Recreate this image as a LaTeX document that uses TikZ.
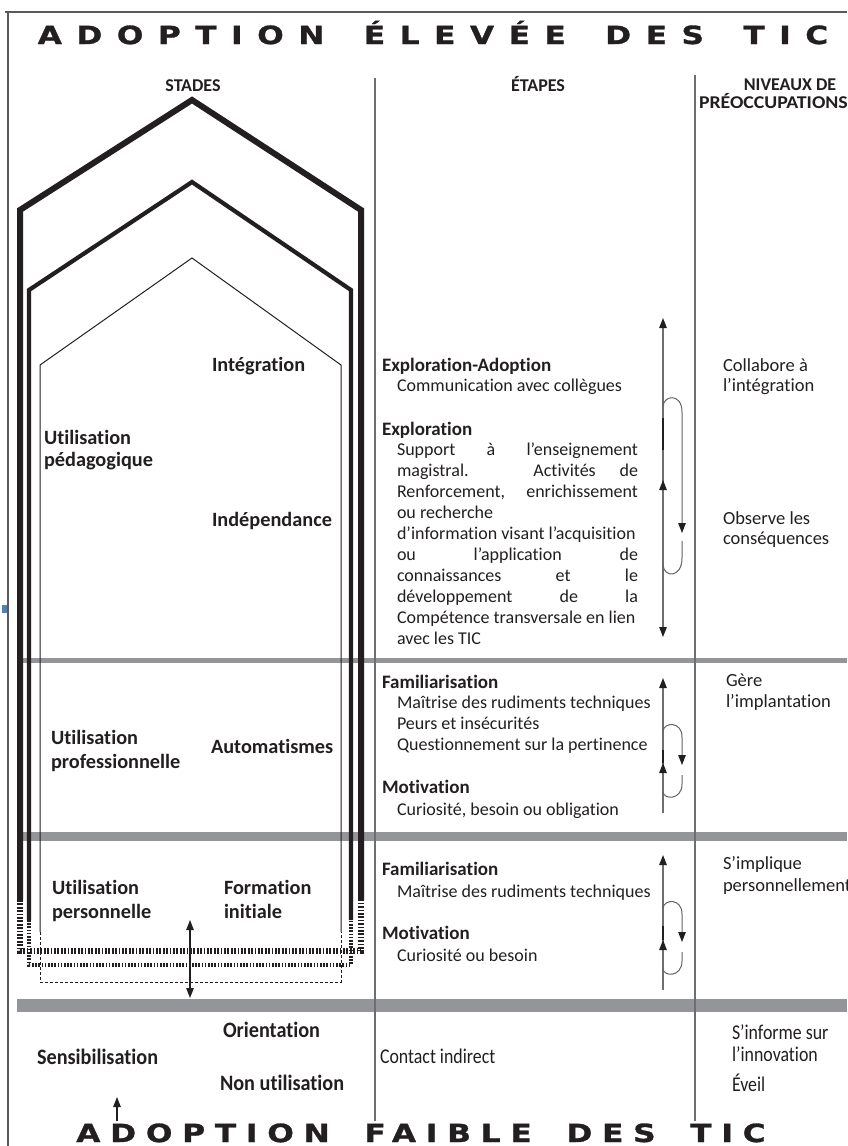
\documentclass[tikz,border=0pt]{standalone}
\usepackage{fontspec}
\setmainfont{Carlito}[Ligatures={TeX,NoCommon}]
\newfontfamily\condfont{Carlito}[FakeStretch=0.85,Ligatures={TeX,NoCommon}]
\newfontfamily\condbfont{Carlito}[FakeStretch=0.92,Ligatures={TeX,NoCommon}]
\newfontfamily\ttlfont{DejaVu Sans}[FakeStretch=1.25,FakeBold=1.2,LetterSpace=58]
\newfontfamily\ttlfontb{DejaVu Sans}[FakeStretch=1.25,FakeBold=1.2,LetterSpace=39]
\usetikzlibrary{arrows.meta}
\definecolor{ink}{HTML}{231F20}
\definecolor{bandgray}{HTML}{939598}
\definecolor{rulegray}{HTML}{6D6E71}
\definecolor{framegray}{HTML}{5A5A5A}
\definecolor{markblue}{HTML}{4F81BD}
\tikzset{
 lbl/.style={inner sep=0pt, outer sep=0pt, text=ink, anchor=base west},
 ttl/.style={lbl, anchor=base, font=\ttlfont\bfseries\fontsize{25}{25}\selectfont},
 ttlb/.style={lbl, anchor=base, font=\ttlfontb\bfseries\fontsize{25}{25}\selectfont},
 hdr/.style={lbl, anchor=base, font=\bfseries\fontsize{18}{18}\selectfont},
 stade/.style={lbl, font=\bfseries\fontsize{20.3}{22}\selectfont},
 stadec/.style={lbl, font=\condbfont\bfseries\fontsize{22}{24}\selectfont},
 etapehd/.style={lbl, font=\bfseries\fontsize{19}{21}\selectfont},
 etape/.style={lbl, font=\fontsize{18}{21}\selectfont},
 etapec/.style={lbl, font=\condfont\fontsize{21}{23}\selectfont},
 niveau/.style={lbl, font=\fontsize{18.5}{21}\selectfont},
 niveauc/.style={lbl, font=\condfont\fontsize{21}{23}\selectfont},
 outerln/.style={draw=ink, line width=6pt, line join=miter},
 midln/.style={draw=ink, line width=4.2pt, line join=miter},
 innerln/.style={draw=ink, line width=1pt, line join=miter},
 outerdash/.style={outerln, dash pattern=on 1.7pt off 1.7pt},
 middash/.style={midln, dash pattern=on 1.6pt off 1.6pt},
 innerdash/.style={innerln, dash pattern=on 3pt off 2pt},
 band/.style={draw=bandgray},
 colrule/.style={draw=rulegray, line width=1.4pt},
 vline/.style={draw=rulegray, line width=1.3pt},
 loopln/.style={draw=rulegray!90!black, line width=1pt},
 tip/.style={-{Triangle[length=10pt,width=7.5pt,color=ink]}},
 tipboth/.style={{Triangle[length=10pt,width=7.5pt,color=ink]}-{Triangle[length=10pt,width=7.5pt,color=ink]}},
}
\begin{document}
\begin{tikzpicture}[x=1pt,y=-1pt]
\useasboundingbox (0,0) rectangle (847,1146);
\fill[white] (0,0) rectangle (847,1146);

% frame
\coordinate (frTL) at (8,12);
\coordinate (frTR) at (847,12);
\coordinate (frBL) at (8,1146);
\draw[draw=framegray, line width=1.5pt] (5,12) -- (frTR);
\draw[draw=framegray, line width=1.5pt] (frTL) -- (frBL);
\fill[markblue] (2,605) rectangle (7,613);

% gray bands
\draw[band, line width=5pt] (20,660) -- (847,660);
\draw[band, line width=9pt] (20,836) -- (847,836);
\draw[band, line width=13pt] (17,1005) -- (847,1005);

% column rules
\coordinate (c1t) at (375,78); \coordinate (c1b) at (375,1121);
\coordinate (c2t) at (695,75); \coordinate (c2b) at (695,1121);
\draw[colrule] (c1t) -- (c1b);
\draw[colrule] (c2t) -- (c2b);

% titles
\node[ttl] (top) at (433,44) {ADOPTION\hspace{14pt} ÉLEVÉE\hspace{14pt} DES\hspace{14pt} TIC};
\node[ttlb] (bot) at (421,1142) {ADOPTION\hspace{14pt} FAIBLE\hspace{14pt} DES\hspace{14pt} TIC};

% headers
\node[hdr] (hstades) at (193,91) {STADES};
\node[hdr] (hetapes) at (538,91) {ÉTAPES};
\node[hdr] (hniv1) at (790,90) {NIVEAUX DE};
\node[hdr, anchor=base west] (hniv2) at (699,108) {\scalebox{1.1}[1]{PRÉOCCUPATIONS}};

% pentagons
\draw[outerln] (20,900) -- (20,210) -- (192,100) -- (361,210) -- (361,900);
\draw[outerdash] (20,900) -- (20,951) -- (361,951) -- (361,900);
\draw[midln] (29,920) -- (29,290) -- (192,182) -- (351,290) -- (351,920);
\draw[middash] (29,920) -- (29,965) -- (351,965) -- (351,920);
\draw[innerln] (40,932) -- (40,365) -- (192,258) -- (341,365) -- (341,932);
\draw[innerdash] (40,932) -- (40,982) -- (341,982) -- (341,932);

% left column labels
\node[stade] (integ) at (212,371) {Intégration};
\node[stade] (up1) at (44,444) {Utilisation};
\node[stade] (up2) at (44,466) {pédagogique};
\node[stade] (indep) at (212,526) {Indépendance};
\node[stade] (upr1) at (51,744) {Utilisation};
\node[stade] (upr2) at (51,768) {professionnelle};
\node[stade] (auto) at (211,753) {Automatismes};
\node[stade] (ups1) at (52,894) {Utilisation};
\node[stade] (ups2) at (52,918) {personnelle};
\node[stade] (form1) at (224,894) {Formation};
\node[stade] (form2) at (224,918) {initiale};
\node[stadec] (orient) at (223,1037) {Orientation};
\node[stadec] (sensib) at (37,1064) {Sensibilisation};
\node[stadec] (nonut) at (220,1090) {Non utilisation};

% left arrows
\coordinate (da1) at (190,920); \coordinate (da2) at (190,998);
\draw[draw=ink, line width=1.3pt, tipboth] (da1) -- (da2);
\coordinate (sa1) at (117,1121); \coordinate (sa2) at (117,1097);
\draw[draw=ink, line width=1.3pt, tip] (sa1) -- (sa2);

% middle column: section 1
\node[etapehd] (expad) at (382,371) {Exploration-Adoption};
\node[etape] (comm) at (397,391) {Communication avec collègues};
\node[etapehd] (expl) at (382,435) {Exploration};
\node[etape] (p1) at (397,455.0) {\makebox[241pt][s]{Support à l'enseignement}};
\node[etape] (p2) at (397,476.1) {\makebox[241pt][s]{magistral. Activités de}};
\node[etape] (p3) at (397,497.2) {\makebox[241pt][s]{Renforcement, enrichissement}};
\node[etape] (p4) at (397,518.3) {ou recherche};
\node[etape] (p5) at (397,539.4) {d'information visant l'acquisition};
\node[etape] (p6) at (397,560.5) {\makebox[241pt][s]{ou l'application de}};
\node[etape] (p7) at (397,581.6) {\makebox[241pt][s]{connaissances et le}};
\node[etape] (p8) at (397,602.7) {\makebox[241pt][s]{développement de la}};
\node[etape] (p9) at (397,623.8) {Compétence transversale en lien};
\node[etape] (p10) at (397,644.9) {avec les TIC};

\coordinate (s1t) at (663,318); \coordinate (s1b) at (663,637);
\draw[vline, tipboth] (s1t) -- (s1b);
\draw[draw=ink, line width=2.2pt] (663,418) -- (663,450);
\coordinate (s1m0) at (663,494); \coordinate (s1m) at (663,480);
\draw[vline, tip] (s1m0) -- (s1m);
\coordinate (l1a) at (663,406); \coordinate (l1b) at (682,533);
\draw[loopln, tip] (l1a) .. controls (664,395) and (682,393) .. (682,412) -- (l1b);
\coordinate (l1c) at (682,541); \coordinate (l1d) at (663,565);
\draw[loopln] (l1c) -- (682,558) .. controls (682,578) and (664,578) .. (l1d);

% section 2
\node[etapehd] (fam1) at (382,688) {Familiarisation};
\node[etape] (fam1a) at (397,708) {Maîtrise des rudiments techniques};
\node[etape] (fam1b) at (397,729) {Peurs et insécurités};
\node[etape] (fam1c) at (397,750) {Questionnement sur la pertinence};
\node[etapehd] (mot1) at (382,793) {Motivation};
\node[etape] (mot1a) at (397,815) {Curiosité, besoin ou obligation};

\coordinate (s2t) at (663,678); \coordinate (s2b) at (663,813);
\draw[vline, tip] (s2b) -- (s2t);
\draw[draw=ink, line width=2.2pt] (663,750) -- (663,763);
\coordinate (s2m0) at (663,775); \coordinate (s2m) at (663,763);
\draw[vline, tip] (s2m0) -- (s2m);
\coordinate (l2a) at (663,731); \coordinate (l2b) at (682,765);
\draw[loopln, tip] (l2a) .. controls (664,722) and (682,721) .. (682,737) -- (l2b);
\coordinate (l2c) at (682,775); \coordinate (l2d) at (663,792);
\draw[loopln] (l2c) -- (682,784) .. controls (682,800) and (664,800) .. (l2d);

% section 3
\node[etapehd] (fam2) at (382,875) {Familiarisation};
\node[etape] (fam2a) at (397,897) {Maîtrise des rudiments techniques};
\node[etapehd] (mot2) at (382,939) {Motivation};
\node[etape] (mot2a) at (397,961) {Curiosité ou besoin};

\coordinate (s3t) at (663,855); \coordinate (s3b) at (663,990);
\draw[vline, tip] (s3b) -- (s3t);
\draw[draw=ink, line width=2.2pt] (663,926) -- (663,940);
\coordinate (s3m0) at (663,952); \coordinate (s3m) at (663,940);
\draw[vline, tip] (s3m0) -- (s3m);
\coordinate (l3a) at (663,908); \coordinate (l3b) at (682,942);
\draw[loopln, tip] (l3a) .. controls (664,899) and (682,898) .. (682,914) -- (l3b);
\coordinate (l3c) at (682,952); \coordinate (l3d) at (663,969);
\draw[loopln] (l3c) -- (682,961) .. controls (682,977) and (664,977) .. (l3d);

% bottom middle
\node[etapec] (contact) at (380,1063) {Contact indirect};

% right column
\node[niveau] (n1a) at (723,371) {Collabore à};
\node[niveau] (n1b) at (723,391) {l'intégration};
\node[niveau] (n2a) at (723,524) {Observe les};
\node[niveau] (n2b) at (723,544) {conséquences};
\node[niveau] (n3a) at (726,686) {Gère};
\node[niveau] (n3b) at (726,707) {l'implantation};
\node[niveau] (n4a) at (723,869) {S'implique};
\node[niveau] (n4b) at (723,891) {personnellement};
\node[niveauc] (n5a) at (732,1039) {S'informe sur};
\node[niveauc] (n5b) at (732,1061) {l'innovation};
\node[niveauc] (n6) at (732,1091) {Éveil};
\end{tikzpicture}
\end{document}
